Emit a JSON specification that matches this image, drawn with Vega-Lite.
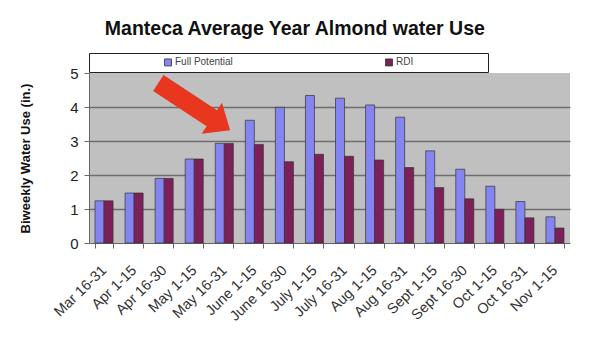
{
  "$schema": "https://vega.github.io/schema/vega-lite/v6.json",
  "width": 481,
  "height": 170,
  "autosize": {"type": "none"},
  "padding": {"left": 89, "top": 73, "right": 30, "bottom": 96},
  "background": "white",
  "title": {
    "text": "Manteca Average Year Almond water Use",
    "font": "Liberation Sans",
    "fontSize": 19.5,
    "fontWeight": "bold",
    "color": "#111111",
    "anchor": "middle",
    "frame": "bounds",
    "offset": 13
  },
  "datasets": {
    "bars": [
      {"period": "Mar 16-31", "series": "Full Potential", "value": 1.24},
      {"period": "Mar 16-31", "series": "RDI", "value": 1.24},
      {"period": "Apr 1-15", "series": "Full Potential", "value": 1.47},
      {"period": "Apr 1-15", "series": "RDI", "value": 1.47},
      {"period": "Apr 16-30", "series": "Full Potential", "value": 1.9},
      {"period": "Apr 16-30", "series": "RDI", "value": 1.9},
      {"period": "May 1-15", "series": "Full Potential", "value": 2.47},
      {"period": "May 1-15", "series": "RDI", "value": 2.47},
      {"period": "May 16-31", "series": "Full Potential", "value": 2.93},
      {"period": "May 16-31", "series": "RDI", "value": 2.93},
      {"period": "June 1-15", "series": "Full Potential", "value": 3.61},
      {"period": "June 1-15", "series": "RDI", "value": 2.9},
      {"period": "June 16-30", "series": "Full Potential", "value": 3.99},
      {"period": "June 16-30", "series": "RDI", "value": 2.39},
      {"period": "July 1-15", "series": "Full Potential", "value": 4.34},
      {"period": "July 1-15", "series": "RDI", "value": 2.61},
      {"period": "July 16-31", "series": "Full Potential", "value": 4.26},
      {"period": "July 16-31", "series": "RDI", "value": 2.55},
      {"period": "Aug 1-15", "series": "Full Potential", "value": 4.06},
      {"period": "Aug 1-15", "series": "RDI", "value": 2.44},
      {"period": "Aug 16-31", "series": "Full Potential", "value": 3.7},
      {"period": "Aug 16-31", "series": "RDI", "value": 2.22},
      {"period": "Sept 1-15", "series": "Full Potential", "value": 2.71},
      {"period": "Sept 1-15", "series": "RDI", "value": 1.63},
      {"period": "Sept 16-30", "series": "Full Potential", "value": 2.17},
      {"period": "Sept 16-30", "series": "RDI", "value": 1.3},
      {"period": "Oct 1-15", "series": "Full Potential", "value": 1.67},
      {"period": "Oct 1-15", "series": "RDI", "value": 0.99},
      {"period": "Oct 16-31", "series": "Full Potential", "value": 1.22},
      {"period": "Oct 16-31", "series": "RDI", "value": 0.74},
      {"period": "Nov 1-15", "series": "Full Potential", "value": 0.77},
      {"period": "Nov 1-15", "series": "RDI", "value": 0.44}
    ],
    "arrow": [
      {"period": "May 1-15", "value": 4.01}
    ]
  },
  "encoding": {
    "x": {
      "field": "period",
      "type": "nominal",
      "scale": {
        "domain": ["Mar 16-31", "Apr 1-15", "Apr 16-30", "May 1-15", "May 16-31", "June 1-15", "June 16-30", "July 1-15", "July 16-31", "Aug 1-15", "Aug 16-31", "Sept 1-15", "Sept 16-30", "Oct 1-15", "Oct 16-31", "Nov 1-15"],
        "paddingInner": 0.4,
        "paddingOuter": 0.2
      },
      "axis": {
        "title": null,
        "labelAngle": -44,
        "labelAlign": "right",
        "labelBaseline": "middle",
        "labelFontSize": 14.5,
        "labelColor": "#333333",
        "labelPadding": 20,
        "labelDx": -1,
        "tickBand": "extent",
        "tickSize": 5,
        "tickColor": "#666666",
        "domainColor": "#666666",
        "grid": false
      }
    },
    "y": {
      "field": "value",
      "type": "quantitative",
      "scale": {"domain": [0, 5], "nice": false},
      "axis": {
        "values": [0, 1, 2, 3, 4, 5],
        "labelOverlap": false,
        "title": "Biweekly Water Use (in.)",
        "titleFontSize": 13,
        "titleFontWeight": "bold",
        "titleColor": "#111111",
        "titlePadding": 37,
        "labelFontSize": 15,
        "labelColor": "#222222",
        "labelPadding": 6,
        "tickSize": 5,
        "tickColor": "#666666",
        "domainColor": "#666666",
        "grid": true,
        "gridColor": {"condition": {"test": "datum.value == 5 || datum.value == 0", "value": "transparent"}, "value": "#6e6e6e"},
        "gridWidth": 1.5
      }
    }
  },
  "layer": [
    {
      "data": {"name": "bars"},
      "mark": {"type": "bar", "stroke": "#333333", "strokeWidth": 0.7},
      "encoding": {
        "xOffset": {"field": "series", "type": "nominal", "sort": ["Full Potential", "RDI"]},
        "color": {
          "field": "series",
          "type": "nominal",
          "scale": {"domain": ["Full Potential", "RDI"], "range": ["#8585f2", "#7d1f58"]},
          "legend": {
            "orient": "top",
            "direction": "horizontal",
            "title": "xxxxxxxxxxxxxx",
            "titleColor": "transparent",
            "titleOrient": "left",
            "titleFontSize": 10,
            "titleFontWeight": "normal",
            "titlePadding": 0,
            "symbolType": "square",
            "symbolSize": 49,
            "symbolStrokeColor": "#333333",
            "symbolStrokeWidth": 0.8,
            "labelFontSize": 10,
            "labelColor": "#444444",
            "labelOffset": 2,
            "labelExpr": "datum.label == 'RDI' ? 'RDI\u2800\u2800\u2800\u2800\u2800\u2800\u2800\u2800\u2800\u2800' : datum.label",
            "columnPadding": 150,
            "strokeColor": "#222222",
            "fillColor": "white",
            "padding": 4,
            "offset": 1
          }
        }
      }
    },
    {
      "data": {"name": "arrow"},
      "mark": {
        "type": "point",
        "shape": "M -1 -0.22 L 0.49 -0.22 L 0.49 -0.43 L 1 0 L 0.49 0.43 L 0.49 0.22 L -1 0.22 Z",
        "filled": true,
        "size": 7396,
        "angle": 33.4,
        "color": "#e8361f",
        "opacity": 1
      }
    }
  ],
  "config": {
    "font": "Liberation Sans",
    "view": {"stroke": null, "fill": "#c0c0c0"},
    "axis": {"labelFont": "Liberation Sans", "titleFont": "Liberation Sans"},
    "legend": {"labelFont": "Liberation Sans", "titleFont": "Liberation Sans"}
  }
}
